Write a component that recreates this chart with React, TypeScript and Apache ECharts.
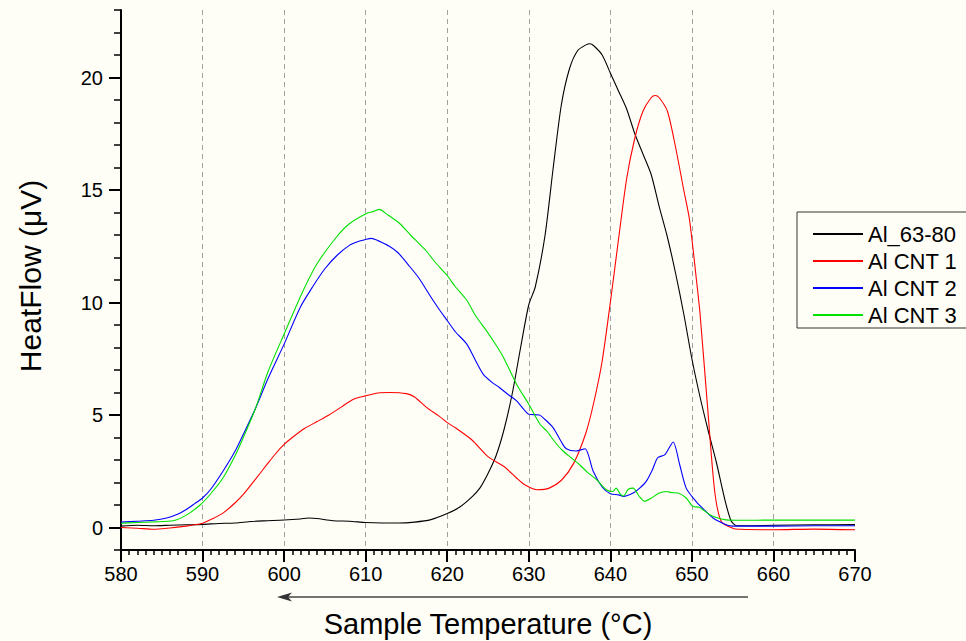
import React, { useEffect, useRef } from "react";
import * as echarts from "echarts";

const FONT = '"Liberation Sans", Arial, sans-serif';
const BG = "#fefef7";

const seriesNames = ["Al_63-80", "Al CNT 1", "Al CNT 2", "Al CNT 3"];
const seriesColors = ["#000000", "#ff0000", "#0000ff", "#00e000"];

const yMajorTicks = [0, 5, 10, 15, 20];

// [temperature °C, heat flow µV]
const al6380: number[][] = [
  [580, 0.06], [582, 0.1], [584, 0.08], [586, 0.1], [588, 0.12], [590, 0.14], [592, 0.18],
  [594, 0.2], [596, 0.27], [598, 0.3], [600, 0.33], [602, 0.38], [603, 0.42], [604, 0.4],
  [606, 0.3], [608, 0.28], [610, 0.22], [612, 0.2], [614, 0.2], [616, 0.24], [618, 0.35],
  [620, 0.62], [621.5, 0.9], [623, 1.35], [624, 1.75], [625, 2.4], [626, 3.2], [627, 4.4],
  [628, 6.0], [629, 8.0], [630, 9.9], [630.8, 10.7], [632, 13.0], [633, 16.0], [634, 18.8],
  [635, 20.4], [636, 21.2], [637, 21.45], [637.5, 21.5], [638, 21.4], [639, 21.0], [640, 20.2],
  [641, 19.4], [642, 18.6], [643, 17.5], [644, 16.6], [645, 15.7], [646, 14.25], [647, 12.9],
  [648, 11.3], [649, 9.5], [650, 7.5], [651, 5.8], [652, 4.3], [653, 2.9], [654, 1.3],
  [654.8, 0.3], [655.5, 0.08], [657, 0.08], [660, 0.1], [665, 0.12], [670, 0.13],
];

const alCnt1: number[][] = [
  [580, 0.0], [582, -0.03], [584, -0.08], [586, -0.02], [588, 0.06], [590, 0.19], [591, 0.35],
  [592.5, 0.64], [594, 1.1], [595, 1.47], [596.5, 2.15], [598, 2.85], [599, 3.3], [600, 3.69],
  [601, 4.0], [602.5, 4.4], [604, 4.7], [605.5, 5.0], [607, 5.35], [608.5, 5.7], [610, 5.85],
  [611.5, 5.98], [613, 6.0], [615, 5.95], [616, 5.8], [617.5, 5.33], [619, 4.95], [620, 4.66],
  [621, 4.43], [623, 3.9], [625, 3.15], [627, 2.7], [628.5, 2.2], [629.5, 1.9], [631, 1.68],
  [632.5, 1.75], [634, 2.1], [635.5, 2.85], [637, 4.2], [638, 5.6], [639, 7.4], [640, 10.0],
  [641, 12.8], [642, 15.5], [643, 17.3], [644, 18.5], [645, 19.1], [645.5, 19.2], [646, 19.1],
  [647, 18.5], [648, 16.9], [649, 15.0], [649.7, 13.7], [650.5, 11.2], [651, 9.5], [652, 5.0],
  [652.8, 1.6], [653.6, 0.27], [655, -0.03], [656, -0.08], [660, -0.1], [665, -0.07], [670, -0.1],
];

const alCnt2: number[][] = [
  [580, 0.24], [582, 0.28], [584, 0.32], [585.6, 0.42], [587, 0.6], [588, 0.8], [589, 1.05],
  [590, 1.31], [591, 1.7], [592.5, 2.5], [594, 3.4], [595, 4.14], [596.5, 5.3], [598, 6.6],
  [600, 8.15], [602, 9.8], [603.5, 10.7], [605, 11.5], [606.5, 12.1], [608, 12.54], [609, 12.7],
  [610, 12.8], [610.7, 12.85], [611.5, 12.75], [612.9, 12.5], [614, 12.2], [615.4, 11.6],
  [616.5, 11.1], [617.9, 10.3], [619, 9.7], [620, 9.2], [621, 8.7], [622.4, 8.15], [623.5, 7.4],
  [624.4, 6.82], [625.5, 6.45], [626.4, 6.22], [627.5, 5.9], [628.5, 5.63], [629.5, 5.2],
  [630, 5.03], [631.3, 5.0], [632, 4.8], [633, 4.43], [634, 3.8], [634.6, 3.5], [635.8, 3.4],
  [636.9, 3.5], [637.9, 2.5], [639, 1.8], [640, 1.5], [641, 1.45], [641.6, 1.38], [642.8, 1.53],
  [643.6, 1.75], [644.4, 2.05], [645.2, 2.6], [645.8, 3.1], [646.7, 3.24], [647.7, 3.8],
  [648.5, 2.8], [649.3, 1.75], [650.5, 1.16], [651.3, 0.86], [652.6, 0.42], [654.2, 0.12],
  [655, 0.06], [660, 0.06], [665, 0.08], [670, 0.08],
];

const alCnt3: number[][] = [
  [580, 0.19], [582, 0.22], [584, 0.25], [586.4, 0.3], [588, 0.55], [589.7, 1.0], [591, 1.5],
  [592.5, 2.2], [594, 3.2], [595, 4.0], [596.5, 5.3], [598, 6.9], [600, 8.6], [602.3, 10.5],
  [604, 11.7], [606.4, 12.9], [608, 13.5], [610.1, 13.96], [611, 14.05], [611.7, 14.14],
  [612.5, 13.95], [614.2, 13.5], [615.5, 13.0], [617.4, 12.3], [618.5, 11.8], [620, 11.2],
  [621, 10.7], [622.4, 10.1], [623.5, 9.4], [624.8, 8.75], [626, 8.1], [626.9, 7.56],
  [628.5, 6.37], [630, 5.48], [631.4, 4.58], [632.2, 4.29], [633.2, 3.8], [634.2, 3.4],
  [635.2, 3.1], [636.2, 2.8], [637.2, 2.45], [638.3, 2.13], [639.5, 1.68], [640.3, 1.6],
  [640.7, 1.75], [641.2, 1.5], [641.6, 1.4], [642.2, 1.7], [642.8, 1.75], [643.5, 1.4],
  [644.2, 1.16], [645, 1.3], [646, 1.53], [646.9, 1.6], [647.5, 1.55], [648.3, 1.53],
  [649.3, 1.31], [650.1, 0.94], [650.9, 0.9], [652.2, 0.57], [653.2, 0.42], [654.2, 0.34],
  [656, 0.32], [660, 0.33], [665, 0.33], [670, 0.33],
];

const seriesData = [al6380, alCnt1, alCnt2, alCnt3];

export default function App() {
  const ref = useRef<HTMLDivElement>(null);

  useEffect(() => {
    if (!ref.current) return;
    const chart = echarts.init(ref.current, null, { renderer: "svg" });
    chart.setOption({
      animation: false,
      backgroundColor: BG,
      textStyle: { fontFamily: FONT },
      grid: { left: 121, right: 111, top: 10, bottom: 91, containLabel: false },
      legend: {
        left: 797,
        top: 212,
        orient: "vertical",
        backgroundColor: BG,
        borderColor: "#333",
        borderWidth: 1,
        borderRadius: 0,
        padding: [11, 20, 2, 15],
        itemWidth: 50,
        itemHeight: 14,
        itemGap: 5,
        itemStyle: { opacity: 0 },
        textStyle: { fontSize: 22, fontFamily: FONT, color: "#000", lineHeight: 22 },
        data: seriesNames,
      },
      xAxis: {
        type: "value",
        min: 580,
        max: 670,
        interval: 10,
        axisLine: { show: true, onZero: false, lineStyle: { color: "#000", width: 2 } },
        axisTick: { show: true, length: 12, lineStyle: { color: "#000", width: 2 } },
        minorTick: { show: true, splitNumber: 10, length: 5, lineStyle: { color: "#000", width: 1.5 } },
        axisLabel: { fontSize: 20, color: "#000", fontFamily: FONT, margin: 14 },
        splitLine: {
          show: true,
          showMinLine: false,
          showMaxLine: false,
          lineStyle: { color: "#a0a0a0", type: [5, 4], width: 1 },
        },
      },
      yAxis: [
        {
          type: "value",
          min: -1,
          max: 23,
          axisLine: { show: true, onZero: false, lineStyle: { color: "#000", width: 2 } },
          axisTick: { show: true, length: 12, customValues: yMajorTicks, lineStyle: { color: "#000", width: 2 } },
          axisLabel: { fontSize: 20, color: "#000", fontFamily: FONT, margin: 18, customValues: yMajorTicks },
          splitLine: { show: false },
        },
        {
          type: "value",
          min: -1,
          max: 23,
          interval: 1,
          position: "left",
          axisLine: { show: false },
          axisTick: { show: true, length: 7, lineStyle: { color: "#000", width: 1.5 } },
          axisLabel: { show: false },
          splitLine: { show: false },
        },
      ],
      series: seriesNames.map((name, i) => ({
        name,
        type: "line",
        data: seriesData[i],
        yAxisIndex: 0,
        symbol: "none",
        smooth: 0.25,
        color: seriesColors[i],
        lineStyle: { color: seriesColors[i], width: 1.1 },
        z: 3,
      })),
      graphic: [
        {
          type: "text",
          x: 30,
          y: 276,
          rotation: Math.PI / 2,
          style: {
            text: "HeatFlow (\u03bcV)",
            font: `30px ${FONT}`,
            fill: "#000",
            align: "center",
            verticalAlign: "middle",
          },
        },
        {
          type: "text",
          x: 488,
          y: 624,
          style: {
            text: "Sample Temperature (\u00b0C)",
            font: `29px ${FONT}`,
            fill: "#000",
            align: "center",
            verticalAlign: "middle",
          },
        },
        {
          type: "line",
          shape: { x1: 748, y1: 597, x2: 286, y2: 597 },
          style: { stroke: "#444", lineWidth: 1.5 },
        },
        {
          type: "polygon",
          shape: { points: [[277, 597], [292, 592.5], [288, 597], [292, 601.5]] },
          style: { fill: "#333" },
        },
      ],
    });
    return () => chart.dispose();
  }, []);

  return (
    <div
      ref={ref}
      style={{ position: "fixed", left: 0, top: 0, width: 966, height: 641, background: BG }}
    />
  );
}
